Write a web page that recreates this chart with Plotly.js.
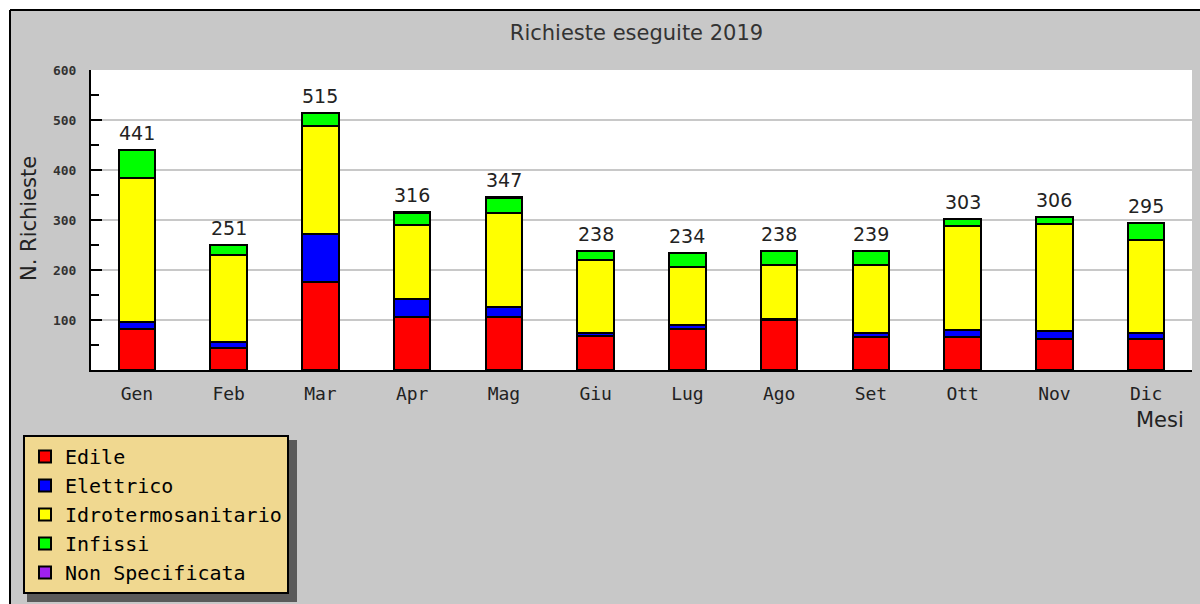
<!DOCTYPE html>
<html>
<head>
<meta charset="utf-8">
<script src="https://cdn.plot.ly/plotly-3.0.1.min.js"></script>
<style>html,body{margin:0;padding:0;background:#fff;}#chart{width:1200px;height:604px;}</style>
</head>
<body>
<div id="chart"></div>
<script>
const months = ['Gen','Feb','Mar','Apr','Mag','Giu','Lug','Ago','Set','Ott','Nov','Dic'];
const edile = [82,44,176,107,107,68,82,100,67,67,63,63];
const elettrico = [14,12,97,36,20,7,8,2,8,13,16,12];
const idro = [288,175,215,148,188,145,117,109,136,208,213,185];
const infissi = [57,20,27,23,30,18,27,27,28,15,14,35];
const nonSpec = [0,0,0,2,2,0,0,0,0,0,0,0];
const seriesNames = ['Edile','Elettrico','Idrotermosanitario','Infissi','Non Specificata'];
const seriesColors = ['#ff0000','#0000ff','#ffff00','#00ff00','#a020f0'];
const yTicks = [100,200,300,400,500,600];

const seriesData = [edile, elettrico, idro, infissi, nonSpec];
const totals = months.map((m,i)=>seriesData.reduce((s,a)=>s+a[i],0));

const traces = seriesData.map((vals,k)=>({
  type:'bar', x:months, y:vals, name:seriesNames[k],
  marker:{color:seriesColors[k], line:{color:'#000', width:2}},
  hoverinfo:'skip'
}));

const W=1200,H=604, L=91, R=8, T=70, B=234;
const pw = W-L-R, ph = H-T-B;
const px = v => (v-L)/pw;
const py = v => (H-B-v)/ph;

const annotations = months.map((m,i)=>({
  x:m, y:totals[i], xref:'x', yref:'y', text:String(totals[i]),
  showarrow:false, yanchor:'bottom', yshift:4,
  font:{family:'DejaVu Sans', size:19, color:'#222'}
}));
annotations.push({xref:'paper', yref:'paper', x:px(1160), y:py(420), text:'Mesi', showarrow:false,
  xanchor:'center', yanchor:'middle', font:{family:'DejaVu Sans', size:21, color:'#222'}});
annotations.push({xref:'paper', yref:'paper', x:px(29), y:py(219), text:'N. Richieste', showarrow:false,
  textangle:-90, xanchor:'center', yanchor:'middle', font:{family:'DejaVu Sans', size:21, color:'#222'}});

const shapes = [
  {type:'rect', xref:'paper', yref:'paper', x0:px(27), x1:px(297), y0:py(440), y1:py(602), fillcolor:'#5a5a5a', line:{width:0}, layer:'below'},
  {type:'rect', xref:'paper', yref:'paper', x0:px(0), x1:px(1200), y0:py(0), y1:py(10), fillcolor:'#fff', line:{width:0}, layer:'above'},
  {type:'rect', xref:'paper', yref:'paper', x0:px(0), x1:px(10), y0:py(0), y1:py(604), fillcolor:'#fff', line:{width:0}, layer:'above'},
  {type:'line', xref:'paper', yref:'paper', x0:px(10), x1:px(1200), y0:py(10), y1:py(10), line:{color:'#000', width:2}, layer:'above'},
  {type:'line', xref:'paper', yref:'paper', x0:px(10), x1:px(10), y0:py(10), y1:py(604), line:{color:'#000', width:2}, layer:'above'}
];

const layout = {
  width:W, height:H,
  margin:{l:L, r:R, t:T, b:B, autoexpand:false},
  paper_bgcolor:'#c8c8c8', plot_bgcolor:'#ffffff',
  barmode:'stack', bargap:0.6,
  title:{text:'Richieste eseguite 2019', xref:'container', yref:'container', x:636.5/W, y:1-33/H,
    xanchor:'center', yanchor:'middle', font:{family:'DejaVu Sans', size:21, color:'#333'}},
  xaxis:{type:'category', range:[-0.5,11.5], showgrid:false, showline:true, linecolor:'#000', linewidth:2,
    ticks:'', tickfont:{family:'DejaVu Sans Mono', size:18, color:'#222'}, ticklabelstandoff:6, fixedrange:true, automargin:false},
  yaxis:{range:[0,600], tickvals:yTicks, ticktext:yTicks.map(String), showgrid:true, gridcolor:'#c8c8c8', gridwidth:2,
    showline:true, linecolor:'#000', linewidth:2, ticks:'inside', ticklen:11, tickwidth:2, tickcolor:'#000',
    minor:{dtick:50, tick0:50, ticks:'inside', ticklen:8, tickwidth:2, tickcolor:'#000', showgrid:false},
    tickfont:{family:'DejaVu Sans Mono', size:13, color:'#333', weight:'bold'}, ticklabelstandoff:10, zeroline:false, fixedrange:true, automargin:false},
  showlegend:true,
  legend:{xref:'container', yref:'container', x:23/W, y:1-435/H, xanchor:'left', yanchor:'top',
    bgcolor:'#f0d890', bordercolor:'#000', borderwidth:2, traceorder:'normal',
    font:{family:'DejaVu Sans Mono', size:20, color:'#000'}, tracegroupgap:0, itemclick:false},
  annotations:annotations,
  shapes:shapes
};

Plotly.newPlot('chart', traces, layout, {displayModeBar:false, staticPlot:true});
</script>
</body>
</html>
